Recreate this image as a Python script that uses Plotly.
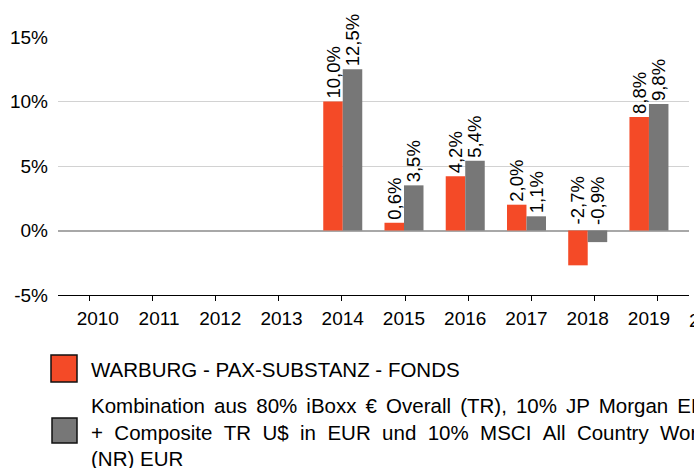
import plotly.graph_objects as go

# ---- data ----
years = ["2010", "2011", "2012", "2013", "2014", "2015", "2016", "2017", "2018", "2019", "2020"]
fund = [None, None, None, None, 10.0, 0.6, 4.2, 2.0, -2.7, 8.8, None]
bench = [None, None, None, None, 12.5, 3.5, 5.4, 1.1, -0.9, 9.8, None]
fund_name = "WARBURG - PAX-SUBSTANZ - FONDS"
bench_lines = [
    "Kombination aus 80% iBoxx € Overall (TR), 10% JP Morgan EMBI Global Diversified",
    "+ Composite TR U$ in EUR und 10% MSCI All Country World Index",
    "(NR) EUR",
]
ytick_vals = [-5, 0, 5, 10, 15]
ytick_text = ["-5%", "0%", "5%", "10%", "15%"]

RED = "#F44A27"
GRAY = "#777777"
FONT = "Liberation Sans, Arial, sans-serif"

W, H = 694, 468
ML, MR, MT, MB = 58, 5, 37, 173
PW, PH = W - ML - MR, H - MT - MB
XRANGE = [-0.65, 9.654]      # category axis (bars + labels)
TICKRANGE = [-0.5, 9.5]      # tick-mark axis
BARGAP = 0.363


def fmt(v):
    return ("%.1f%%" % v).replace(".", ",")


def lbl(vals):
    return [fmt(v) if (v is not None and v >= 0) else "" for v in vals]


def pos(vals):
    return ["outside" if (v is not None and v >= 0) else "none" for v in vals]


def px(x):
    return (x - ML) / PW


def py(y):
    return (MT + PH - y) / PH


fig = go.Figure()
fig.add_trace(go.Bar(
    x=years, y=fund, name=fund_name, marker=dict(color=RED, line=dict(width=0)),
    text=lbl(fund), textposition=pos(fund), textangle=-90, constraintext="none",
    textfont=dict(size=18.5, color="#000000", family=FONT), cliponaxis=False,
))
fig.add_trace(go.Bar(
    x=years, y=bench, name="Benchmark", marker=dict(color=GRAY, line=dict(width=0)),
    text=lbl(bench), textposition=pos(bench), textangle=-90, constraintext="none",
    textfont=dict(size=18.5, color="#000000", family=FONT), cliponaxis=False,
))
# empty trace that carries the tick-mark axis
fig.add_trace(go.Scatter(x=[0, 9], y=[None, None], xaxis="x2", mode="lines",
                         showlegend=False, hoverinfo="skip"))

# labels of negative bars sit above the zero line
band = PW / (XRANGE[1] - XRANGE[0])
bw = band * (1 - BARGAP) / 2
annotations = []
for series, shift in ((fund, -bw / 2), (bench, bw / 2)):
    for i, v in enumerate(series):
        if v is not None and v < 0:
            annotations.append(dict(
                x=i, y=0, xref="x", yref="y", text=fmt(v), textangle=-90,
                showarrow=False, xanchor="center", yanchor="bottom",
                xshift=shift, yshift=4,
                font=dict(size=18.5, color="#000000", family=FONT),
            ))

# last category label, cut by the right border as in the original
last = len(years) - 1
annotations.append(dict(
    x=(last - XRANGE[0]) / (XRANGE[1] - XRANGE[0]), y=py(320), xref="paper", yref="paper",
    text=years[last], showarrow=False, xanchor="center", yanchor="middle",
    font=dict(size=19, color="#000000", family=FONT),
))

# legend (drawn manually to match the large swatches)
shapes = [
    dict(type="rect", xref="paper", yref="paper", x0=px(51), x1=px(77), y0=py(382), y1=py(355),
         fillcolor=RED, line=dict(color="#111111", width=1.5)),
    dict(type="rect", xref="paper", yref="paper", x0=px(52), x1=px(77), y0=py(443), y1=py(418),
         fillcolor=GRAY, line=dict(color="#111111", width=1.5)),
]
annotations.append(dict(
    x=px(89), y=py(369), xref="paper", yref="paper", text=fund_name, showarrow=False,
    xanchor="left", yanchor="middle", align="left",
    font=dict(size=20.5, color="#000000", family=FONT),
))
bench_text = "<br>".join([
    bench_lines[0].replace(" ", " \u2006"),
    bench_lines[1].replace(" ", " \u00a0"),
    bench_lines[2],
])
annotations.append(dict(
    x=px(89), y=py(432), xref="paper", yref="paper", text=bench_text, showarrow=False,
    xanchor="left", yanchor="middle", align="left",
    font=dict(size=20.5, color="#000000", family=FONT),
))

fig.update_layout(
    width=W, height=H,
    margin=dict(l=ML, r=MR, t=MT, b=MB, pad=0),
    paper_bgcolor="white", plot_bgcolor="white",
    barmode="group", bargap=BARGAP, bargroupgap=0,
    showlegend=False,
    font=dict(family=FONT, size=19, color="#000000"),
    xaxis=dict(
        type="category", range=XRANGE,
        showline=False, ticks="", ticklabelstandoff=10,
        showgrid=False, zeroline=False, fixedrange=True,
        tickfont=dict(size=19, family=FONT, color="#000000"),
    ),
    xaxis2=dict(
        overlaying="x", anchor="y", side="bottom", range=TICKRANGE,
        tickvals=list(range(10)), showticklabels=False,
        showline=True, linecolor="#000000", linewidth=1,
        ticks="outside", ticklen=5, tickcolor="#000000", tickwidth=1,
        showgrid=False, zeroline=False, fixedrange=True,
    ),
    yaxis=dict(
        range=[-5, 15], tickvals=ytick_vals, ticktext=ytick_text,
        showgrid=True, gridcolor="#d2d2d2", gridwidth=1,
        zeroline=True, zerolinecolor="#a8a8a8", zerolinewidth=2,
        showline=False, ticks="", ticklabelstandoff=9,
        tickfont=dict(size=19, family=FONT, color="#000000"),
    ),
    shapes=shapes,
    annotations=annotations,
)

fig.write_html("out.html")
